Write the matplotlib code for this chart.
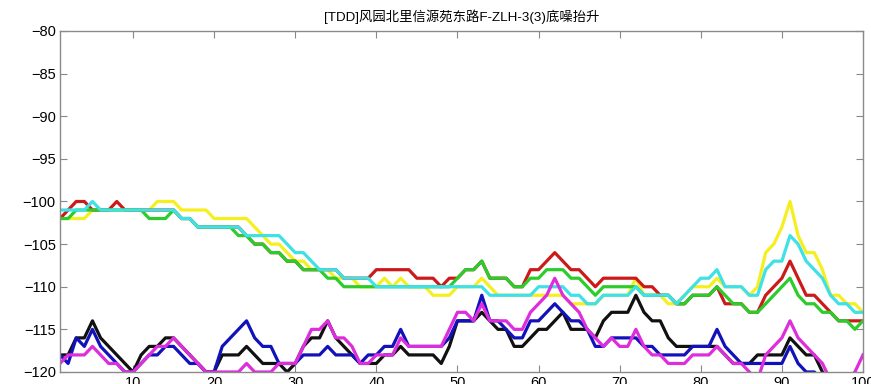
import numpy as np
import matplotlib
matplotlib.use("Agg")
import matplotlib.pyplot as plt

# sample index along x
x = np.arange(1, 101)

title = "[TDD]风园北里信源苑东路F-ZLH-3(3)底噪抬升"

red = [
    -102, -101, -100, -100, -101, -101, -101, -100, -101, -101,
    -101, -101, -101, -101, -101, -102, -102, -103, -103, -103,
    -103, -103, -103, -104, -105, -105, -106, -106, -107, -107,
    -108, -108, -108, -108, -108, -109, -109, -109, -109, -108,
    -108, -108, -108, -108, -109, -109, -109, -110, -109, -109,
    -108, -108, -107, -109, -109, -109, -110, -110, -108, -108,
    -107, -106, -107, -108, -108, -109, -110, -109, -109, -109,
    -109, -109, -110, -110, -111, -111, -112, -112, -111, -111,
    -111, -110, -112, -112, -112, -113, -113, -111, -110, -109,
    -107, -109, -111, -111, -112, -113, -114, -114, -114, -114]

yellow = [
    -102, -102, -102, -102, -101, -101, -101, -101, -101, -101,
    -101, -101, -100, -100, -100, -101, -101, -101, -101, -102,
    -102, -102, -102, -102, -103, -104, -105, -105, -106, -107,
    -107, -108, -108, -108, -109, -109, -109, -110, -110, -110,
    -109, -110, -109, -110, -110, -110, -111, -111, -111, -110,
    -110, -110, -109, -110, -111, -111, -111, -111, -111, -111,
    -111, -111, -111, -112, -112, -112, -112, -111, -111, -111,
    -111, -109, -111, -111, -111, -112, -112, -111, -110, -110,
    -110, -109, -110, -110, -110, -111, -110, -106, -105, -103,
    -100, -104, -106, -106, -108, -111, -111, -112, -112, -113]

green = [
    -102, -102, -101, -101, -101, -101, -101, -101, -101, -101,
    -101, -102, -102, -102, -101, -102, -102, -103, -103, -103,
    -103, -103, -104, -104, -105, -105, -106, -106, -107, -107,
    -108, -108, -108, -109, -109, -110, -110, -110, -110, -110,
    -110, -110, -110, -110, -110, -110, -110, -110, -110, -109,
    -108, -108, -107, -109, -109, -109, -110, -110, -109, -109,
    -108, -108, -108, -109, -109, -110, -111, -110, -110, -110,
    -110, -110, -111, -111, -111, -111, -112, -112, -111, -111,
    -111, -110, -111, -112, -112, -113, -113, -112, -111, -110,
    -109, -111, -112, -112, -113, -113, -114, -114, -115, -114]

cyan = [
    -101, -101, -101, -101, -100, -101, -101, -101, -101, -101,
    -101, -101, -101, -101, -101, -102, -102, -103, -103, -103,
    -103, -103, -103, -104, -104, -104, -104, -104, -105, -106,
    -106, -107, -108, -108, -108, -109, -109, -109, -109, -110,
    -110, -110, -110, -110, -110, -110, -110, -110, -110, -110,
    -110, -110, -110, -111, -111, -111, -111, -111, -111, -110,
    -110, -110, -110, -111, -111, -112, -112, -111, -111, -111,
    -111, -110, -111, -111, -111, -111, -112, -111, -110, -109,
    -109, -108, -110, -110, -110, -111, -111, -108, -107, -107,
    -104, -105, -107, -108, -109, -111, -112, -112, -113, -113]

black = [
    -118, -118, -116, -116, -114, -116, -117, -118, -119, -120,
    -118, -117, -117, -116, -116, -117, -118, -119, -120, -120,
    -118, -118, -118, -117, -118, -119, -119, -119, -120, -119,
    -117, -116, -116, -114, -116, -117, -118, -119, -119, -119,
    -118, -118, -117, -118, -118, -118, -118, -119, -117, -114,
    -114, -114, -113, -114, -115, -115, -117, -117, -116, -115,
    -115, -114, -113, -115, -115, -115, -116, -114, -113, -113,
    -113, -111, -113, -114, -114, -116, -117, -117, -117, -117,
    -117, -117, -118, -119, -119, -119, -118, -118, -118, -118,
    -116, -117, -118, -118, -120, -121, -121, -121, -121, -121]

blue = [
    -118, -119, -116, -117, -115, -117, -118, -119, -120, -120,
    -119, -118, -118, -117, -117, -118, -119, -119, -120, -120,
    -117, -116, -115, -114, -116, -117, -117, -119, -119, -119,
    -118, -118, -118, -117, -118, -118, -118, -119, -118, -118,
    -117, -117, -115, -117, -117, -117, -117, -117, -116, -114,
    -114, -114, -111, -114, -114, -115, -116, -116, -114, -114,
    -113, -112, -113, -114, -114, -115, -117, -117, -116, -116,
    -116, -116, -117, -117, -118, -118, -118, -118, -117, -117,
    -117, -115, -117, -118, -119, -119, -119, -119, -119, -119,
    -117, -119, -120, -120, -121, -121, -121, -121, -121, -121]

magenta = [
    -119, -118, -118, -118, -117, -118, -119, -119, -120, -120,
    -119, -118, -117, -117, -116, -117, -118, -119, -120, -120,
    -120, -120, -120, -119, -120, -120, -120, -119, -119, -119,
    -117, -115, -115, -114, -116, -116, -117, -119, -119, -118,
    -118, -118, -116, -117, -117, -117, -117, -117, -115, -113,
    -113, -114, -112, -114, -114, -114, -115, -115, -113, -112,
    -111, -109, -111, -112, -113, -115, -116, -117, -116, -117,
    -117, -115, -117, -118, -118, -119, -119, -119, -118, -118,
    -118, -117, -118, -119, -119, -120, -121, -118, -117, -116,
    -114, -116, -117, -118, -119, -121, -121, -121, -120, -118]

xticks = list(range(10, 101, 10))
yticks = list(range(-120, -79, 5))

# drawing order: later series sit on top
series = [
    (yellow, '#f5ef1f'),
    (red, '#cc1a1a'),
    (green, '#2bcc2b'),
    (cyan, '#3fe0e6'),
    (black, '#111111'),
    (blue, '#1212bb'),
    (magenta, '#dd2ddd'),
]

fig = plt.figure(figsize=(8.71, 3.84), dpi=100)
ax = fig.add_axes([0.0689, 0.0313, 0.9219, 0.8880])

for vals, col in series:
    ax.plot(x, vals, color=col, linewidth=2.3)

ax.set_xlim(1, 100)
ax.set_ylim(-120, -80)
ax.set_xticks(xticks)
ax.set_yticks(yticks)
ax.tick_params(direction='in', top=True, right=True, length=5,
               color='#888888', width=0.8, labelsize=10.5, pad=3)
for lab in ax.get_xticklabels() + ax.get_yticklabels():
    lab.set_fontfamily('Liberation Sans')
for sp in ax.spines.values():
    sp.set_color('#8a8a8a')
    sp.set_linewidth(1.0)

ax.set_title(title, fontsize=9.6, pad=7,
             family=['Liberation Sans', 'Noto Sans CJK SC'])

fig.savefig("out.png", dpi=100)
